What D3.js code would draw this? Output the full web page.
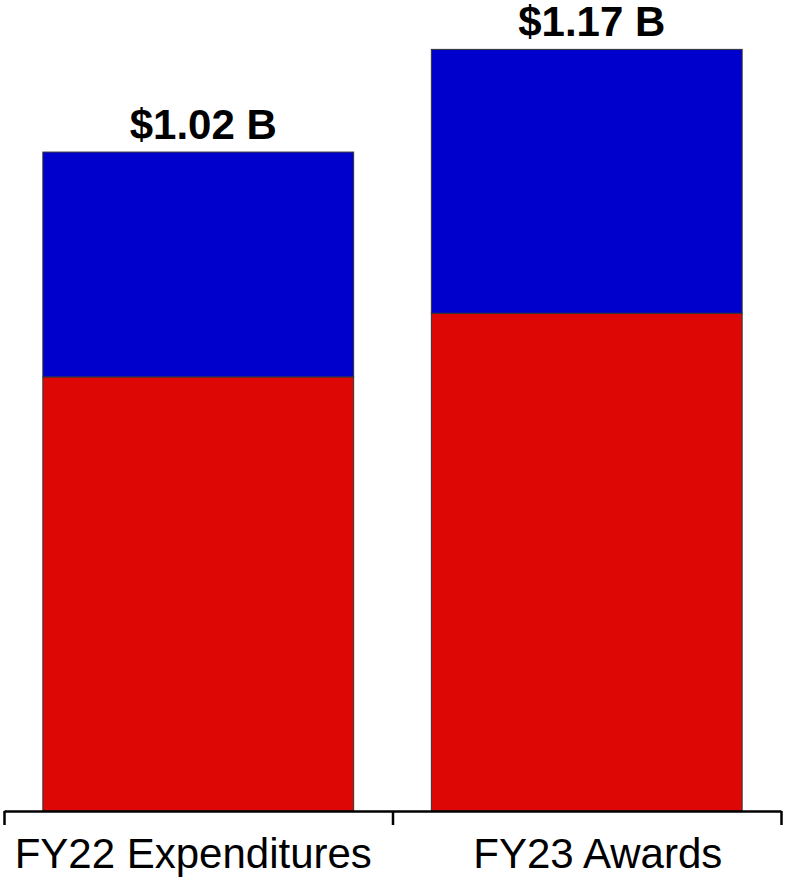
<!DOCTYPE html>
<html>
<head>
<meta charset="utf-8">
<script src="https://cdn.jsdelivr.net/npm/d3@7"></script>
<style>
  body { margin: 0; background: #fff; }
  text { font-family: "Liberation Sans", Arial, sans-serif; }
</style>
</head>
<body>
<div id="chart"></div>
<script>
// categories and values (billions)
var categories = ["FY22 Expenditures", "FY23 Awards"];
var redValues = [0.668, 0.766];
var blueValues = [0.346, 0.406];
var totalLabels = ["$1.02 B", "$1.17 B"];

var width = 786, height = 879;
var baseY = 811;

var svg = d3.select("#chart")
  .append("svg")
    .attr("width", width)
    .attr("height", height);

// x scale
var x = d3.scaleBand()
    .domain(categories)
    .range([4, 781])
    .paddingInner(0.2)
    .paddingOuter(0.1);

// y scale
var y = d3.scaleLinear()
    .domain([0, 1.248])
    .range([baseY, 0]);

var data = categories.map(function(c, i) {
  return {cat: c, red: redValues[i], blue: blueValues[i], label: totalLabels[i]};
});

// red bottom parts
svg.selectAll(".red")
  .data(data)
  .enter()
  .append("rect")
    .attr("x", function(d) { return x(d.cat); })
    .attr("y", function(d) { return y(d.red); })
    .attr("width", x.bandwidth())
    .attr("height", function(d) { return baseY - y(d.red); })
    .attr("fill", "#dd0805")
    .attr("stroke", "#333")
    .attr("stroke-width", 1);

// blue top parts
svg.selectAll(".blue")
  .data(data)
  .enter()
  .append("rect")
    .attr("x", function(d) { return x(d.cat); })
    .attr("y", function(d) { return y(d.red + d.blue); })
    .attr("width", x.bandwidth())
    .attr("height", function(d) { return y(d.red) - y(d.red + d.blue); })
    .attr("fill", "#0000cc")
    .attr("stroke", "#333")
    .attr("stroke-width", 1);

// total labels
svg.selectAll(".total")
  .data(data)
  .enter()
  .append("text")
    .attr("x", function(d) { return x(d.cat) + x.bandwidth() / 2 + 5; })
    .attr("y", function(d) { return y(d.red + d.blue) - 13; })
    .attr("text-anchor", "middle")
    .attr("font-size", 42)
    .attr("font-weight", "bold")
    .text(function(d) { return d.label; });

// axis line with ticks at category boundaries
var edge = d3.scaleLinear().domain([0, categories.length]).range(x.range());
svg.append("g")
    .attr("transform", "translate(0," + baseY + ")")
    .call(d3.axisBottom(edge).tickValues([0, 1, 2]).tickSize(14).tickSizeOuter(0).tickFormat(""))
    .call(function(g) { g.selectAll("line, path").attr("stroke", "#000").attr("stroke-width", 2.5); });

// category labels
var labelNudge = [-5, 11];
svg.append("g")
    .attr("transform", "translate(0," + baseY + ")")
    .call(d3.axisBottom(x).tickSize(0).tickPadding(0))
    .call(function(g) {
      g.select(".domain").remove();
      g.selectAll("text")
        .attr("font-size", 42)
        .attr("font-family", "Liberation Sans, Arial, sans-serif")
        .attr("fill", "#000")
        .attr("dy", null)
        .attr("y", 57)
        .attr("dx", function(d, i) { return labelNudge[i]; });
    });
</script>
</body>
</html>
